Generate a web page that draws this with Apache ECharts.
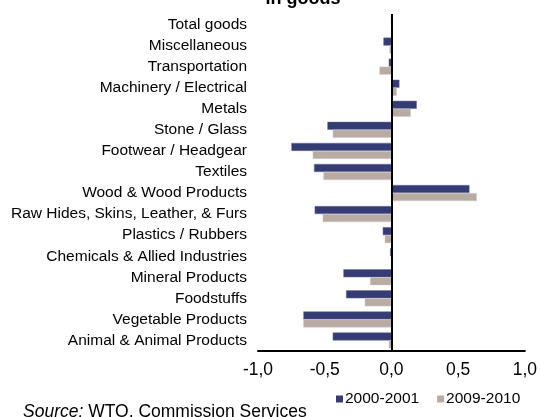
<!DOCTYPE html>
<html>
<head>
<meta charset="utf-8">
<script src="https://cdn.jsdelivr.net/npm/echarts@6/dist/echarts.min.js"></script>
<style>html,body{margin:0;padding:0;background:#fff}#c{width:540px;height:417px}</style>
</head>
<body>
<div id="c"></div>
<script>
var categories = ['Total goods','Miscellaneous','Transportation','Machinery / Electrical','Metals','Stone / Glass','Footwear / Headgear','Textiles','Wood & Wood Products','Raw Hides, Skins, Leather, & Furs','Plastics / Rubbers','Chemicals & Allied Industries','Mineral Products','Foodstuffs','Vegetable Products','Animal & Animal Products'];
var series2000 = [0, -0.06, -0.02, 0.06, 0.19, -0.48, -0.75, -0.58, 0.585, -0.575, -0.065, -0.01, -0.36, -0.34, -0.66, -0.44];
var series2009 = [0, -0.015, -0.09, 0.04, 0.145, -0.44, -0.59, -0.51, 0.64, -0.515, -0.05, 0, -0.16, -0.20, -0.66, -0.02];
var seriesNames = ['2000-2001', '2009-2010'];
var xTicks = [-1, -0.5, 0, 0.5, 1];

var FONT = 'Liberation Sans, Arial, sans-serif';
var chart = echarts.init(document.getElementById('c'), null, {renderer: 'canvas'});
chart.setOption({
  animation: false,
  backgroundColor: '#fff',
  grid: {left: 258, right: 15, top: 14, bottom: 66, containLabel: false},
  xAxis: {
    type: 'value', min: xTicks[0], max: xTicks[xTicks.length - 1], interval: 0.5,
    axisLine: {show: true, onZero: false, lineStyle: {color: '#000', width: 2}},
    axisTick: {show: false},
    splitLine: {show: false},
    axisLabel: {color: '#000', fontFamily: FONT, fontSize: 17.5, margin: 10,
      formatter: function (v) { return v.toFixed(1).replace('.', ','); }}
  },
  yAxis: {
    type: 'category', data: categories, inverse: true,
    axisLine: {show: false, onZero: false},
    axisTick: {show: false},
    axisLabel: {color: '#000', fontFamily: FONT, fontSize: 15.5, margin: 11}
  },
  legend: {
    data: seriesNames, left: 331, top: 386, icon: 'rect', itemWidth: 7, itemHeight: 7, itemGap: 18,
    itemStyle: {borderWidth: 0},
    textStyle: {color: '#000', fontFamily: FONT, fontSize: 15.5, padding: [0, 0, 0, -3]}
  },
  series: [
    {name: seriesNames[0], type: 'bar', data: series2000, barWidth: 8, barGap: '0%',
      itemStyle: {color: '#353B73', borderColor: '#6a6e9c', borderWidth: 0.5},
      markLine: {silent: true, symbol: 'none', label: {show: false},
        lineStyle: {color: '#000', width: 2, type: 'solid'}, data: [{xAxis: 0}]}},
    {name: seriesNames[1], type: 'bar', data: series2009, barWidth: 8,
      itemStyle: {color: '#B8ABA4', borderColor: '#d3cbc7', borderWidth: 0.5}}
  ],
  graphic: [
    {type: 'text', x: 303, y: -1, style: {text: 'in goods', fontFamily: FONT, fontWeight: 'bold', fontSize: 18, fill: '#000', align: 'center', verticalAlign: 'middle'}},
    {type: 'text', x: 23, y: 412, style: {
      text: '{i|Source:} WTO, Commission Services',
      rich: {i: {fontStyle: 'italic', fontFamily: FONT, fontSize: 17.5, fill: '#000'}},
      fontFamily: FONT, fontSize: 17.5, fill: '#000', verticalAlign: 'middle'}}
  ]
});
</script>
</body>
</html>
